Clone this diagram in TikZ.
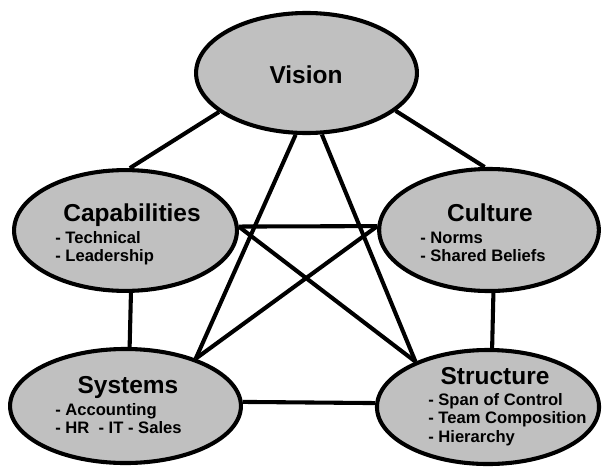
\documentclass[tikz,border=0pt]{standalone}
\usepackage{fontspec}
\setmainfont{Liberation Sans}
\usepackage{xcolor}
\usetikzlibrary{shapes.geometric,backgrounds}
\definecolor{ovalgray}{RGB}{192,192,192}

\begin{document}
\begin{tikzpicture}[x=0.025cm, y=-0.025cm,
	oval/.style={ellipse, draw=black, fill=ovalgray, line width=2.9pt, inner sep=0},
	link/.style={draw=black, line width=2.9pt},
	title/.style={anchor=base, inner sep=0, font=\fontsize{17.4}{20}\selectfont\bfseries},
	items/.style={anchor=base west, inner sep=0, font=\fontsize{11.8}{13.5}\selectfont\bfseries}]
	\useasboundingbox (0, 0) rectangle (602, 466);
	% Ovals and texts:
	\node[oval, minimum width=5.52cm, minimum height=3cm] (vis) at (306.5, 73) {};
	\node[title] (vist) at (306, 83) {Vision};
	\node[oval, minimum width=5.57cm, minimum height=3.02cm] (cap) at (125.5, 230.5) {};
	\node[title] (capt) at (132, 221) {Capabilities};
	\node[items] (capi) at (55, 243) {\begin{tabular}[t]{@{}l@{}}- Technical\\- Leadership\end{tabular}};
	\node[oval, minimum width=5.49cm, minimum height=3.05cm] (cul) at (489, 230) {};
	\node[title] (cult) at (490, 221) {Culture};
	\node[items] (culi) at (420, 243) {\begin{tabular}[t]{@{}l@{}}- Norms\\- Shared Beliefs\end{tabular}};
	\node[oval, minimum width=5.77cm, minimum height=2.85cm] (sys) at (125.5, 406) {};
	\node[title] (syst) at (128, 393) {Systems};
	\node[items] (sysi) at (55, 415) {\begin{tabular}[t]{@{}l@{}}- Accounting\\- HR\ \ - IT - Sales\end{tabular}};
	\node[oval, minimum width=5.55cm, minimum height=2.85cm] (str) at (488, 407) {};
	\node[title] (strt) at (495, 384) {Structure};
	\node[items] (stri) at (428, 405) {\begin{tabular}[t]{@{}l@{}}- Span of Control\\- Team Composition\\- Hierarchy\end{tabular}};
	% Links, behind the ovals:
	\begin{scope}[on background layer]
		\draw[link] (vis.204) -- (cap.86);
		\draw[link] (vis.337) -- (cul.94);
		\draw[link] (vis.260) -- (sys.34);
		\draw[link] (vis.284) -- (str.148);
		\draw[link] (cap.2) -- (cul.178);
		\draw[link] (cap.2) -- (str.148);
		\draw[link] (cap.275) -- (sys.86);
		\draw[link] (cul.178) -- (sys.34);
		\draw[link] (cul.274) -- (str.86);
		\draw[link] (sys.2) -- (str.178);
	\end{scope}
\end{tikzpicture}
\end{document}
